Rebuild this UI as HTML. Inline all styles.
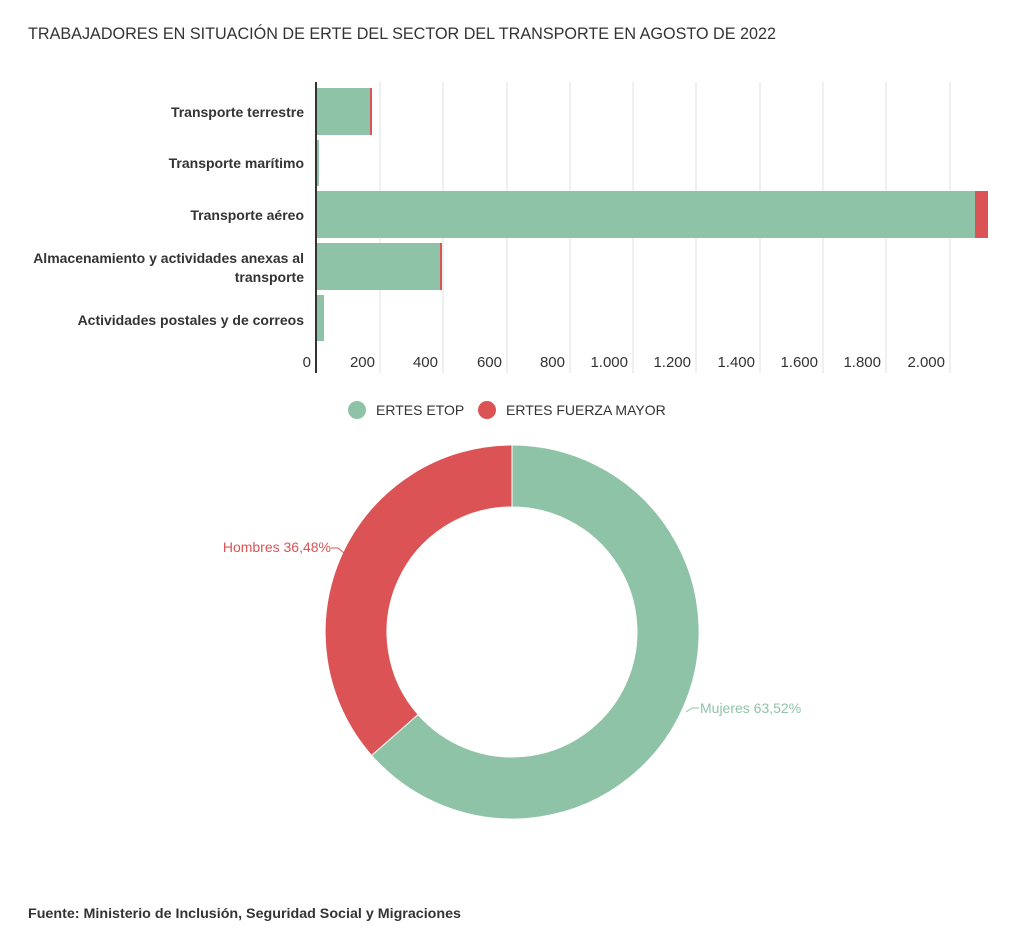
<!DOCTYPE html>
<html><head><meta charset="utf-8"><style>
html,body{margin:0;padding:0;background:#fff;width:1016px;height:931px;overflow:hidden}
svg{display:block;font-family:"Liberation Sans",sans-serif}
</style></head><body>
<svg width="1016" height="931" viewBox="0 0 1016 931">
<text x="28" y="39" font-size="17" fill="#333" textLength="748" lengthAdjust="spacingAndGlyphs">TRABAJADORES EN SITUACIÓN DE ERTE DEL SECTOR DEL TRANSPORTE EN AGOSTO DE 2022</text>
<g stroke="#e2e2e2" stroke-width="1">
<line x1="380" y1="82" x2="380" y2="373"/><line x1="443" y1="82" x2="443" y2="373"/>
<line x1="507" y1="82" x2="507" y2="373"/><line x1="570" y1="82" x2="570" y2="373"/>
<line x1="633" y1="82" x2="633" y2="373"/><line x1="696" y1="82" x2="696" y2="373"/>
<line x1="760" y1="82" x2="760" y2="373"/><line x1="823" y1="82" x2="823" y2="373"/>
<line x1="886" y1="82" x2="886" y2="373"/><line x1="950" y1="82" x2="950" y2="373"/>
</g>
<g fill="#8fc3a7">
<rect x="316" y="88" width="54" height="47"/>
<rect x="316" y="140" width="3" height="46"/>
<rect x="316" y="191" width="659" height="47"/>
<rect x="316" y="243" width="124" height="47"/>
<rect x="316" y="295" width="8" height="46"/>
</g>
<g fill="#dc5355">
<rect x="370" y="88" width="2" height="47"/>
<rect x="975" y="191" width="13" height="47"/>
<rect x="440" y="243" width="2" height="47"/>
</g>
<line x1="316" y1="82" x2="316" y2="373" stroke="#333" stroke-width="2"/>
<g font-size="14" fill="#333" text-anchor="end" style="font-weight:600">
<text x="304" y="117">Transporte terrestre</text>
<text x="304" y="168">Transporte marítimo</text>
<text x="304" y="220">Transporte aéreo</text>
<text x="304" y="263">Almacenamiento y actividades anexas al</text>
<text x="304" y="282">transporte</text>
<text x="304" y="325">Actividades postales y de correos</text>
</g>
<g font-size="15" fill="#333" text-anchor="end">
<text x="311" y="367">0</text><text x="375" y="367">200</text><text x="438" y="367">400</text>
<text x="502" y="367">600</text><text x="565" y="367">800</text><text x="628" y="367">1.000</text>
<text x="691" y="367">1.200</text><text x="755" y="367">1.400</text><text x="818" y="367">1.600</text>
<text x="881" y="367">1.800</text><text x="945" y="367">2.000</text>
</g>
<circle cx="357" cy="410" r="9" fill="#8fc3a7"/>
<text x="376" y="415" font-size="14" fill="#333">ERTES ETOP</text>
<circle cx="487" cy="410" r="9" fill="#dc5355"/>
<text x="506" y="415" font-size="14" fill="#333">ERTES FUERZA MAYOR</text>
<path d="M512,445 A187,187 0 1 1 371.6,755.4 L418.1,714.5 A125,125 0 1 0 512,507 Z" fill="#8fc3a7" stroke="#fff" stroke-width="1"/>
<path d="M371.6,755.4 A187,187 0 0 1 512,445 L512,507 A125,125 0 0 0 418.1,714.5 Z" fill="#dc5355" stroke="#fff" stroke-width="1"/>
<polyline points="331,548 338,548 344,553" fill="none" stroke="#dc5355"/>
<text x="331" y="552" font-size="14" fill="#dc5355" text-anchor="end">Hombres 36,48%</text>
<polyline points="686,712 692,708 699,708" fill="none" stroke="#8fc3a7"/>
<text x="700" y="713" font-size="14" fill="#8fc3a7">Mujeres 63,52%</text>
<text x="28" y="918" font-size="14" fill="#333" style="font-weight:600" textLength="433" lengthAdjust="spacingAndGlyphs">Fuente: Ministerio de Inclusión, Seguridad Social y Migraciones</text>
</svg>
</body></html>
